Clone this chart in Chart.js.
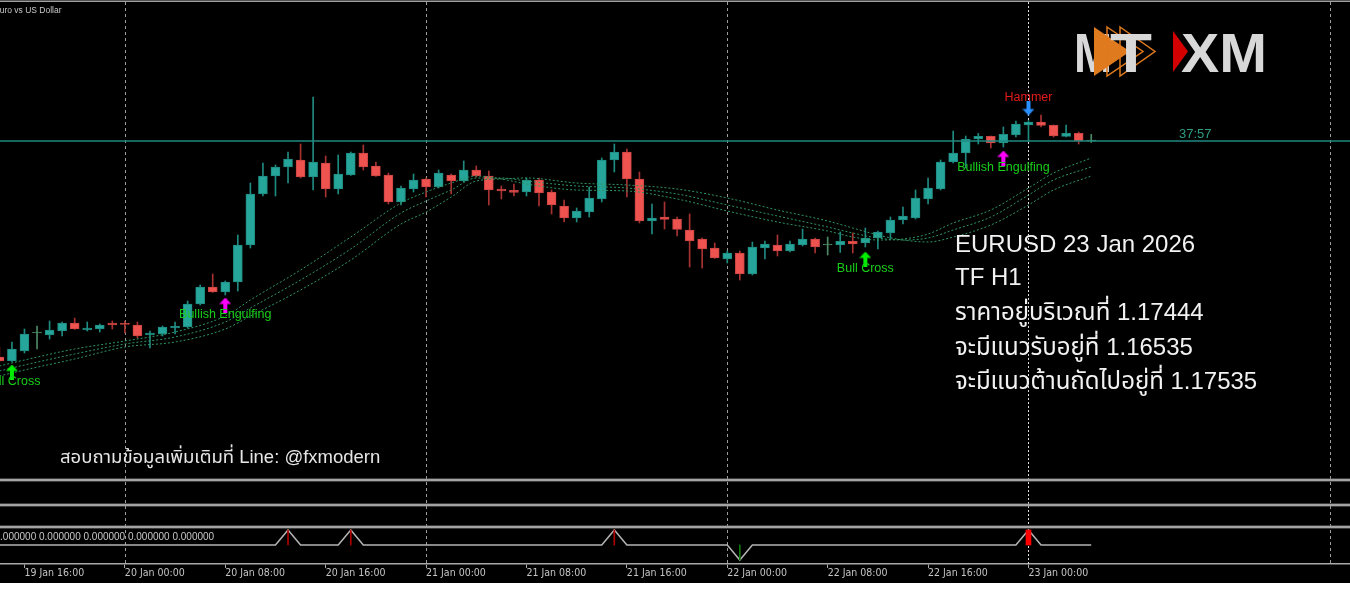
<!DOCTYPE html>
<html>
<head>
<meta charset="utf-8">
<script src="https://cdn.jsdelivr.net/npm/chart.js"></script>
<style>
  html, body { margin: 0; padding: 0; background: #fff; }
  #wrap { position: relative; width: 1350px; height: 583px; background: #000; }
</style>
</head>
<body>
<div id="wrap"><canvas id="chart"></canvas></div>
<script>
// EURUSD H1, bar 0 = 19 Jan 14:00, one bar per hour
const symbolName = 'Euro vs US Dollar';
const infoTitle = 'EURUSD 23 Jan 2026';
const timeframe = 'TF H1';
const bidPrice = 1.17444;
const supportPrice = 1.16535;
const resistPrice = 1.17535;
const countdown = '37:57';
const contactText = 'สอบถามข้อมูลเพิ่มเติมที่ Line: @fxmodern';

const open = [
  1.15932, 1.15904, 1.15974, 1.16100, 1.16086, 1.16114, 1.16170, 1.16121, 1.16128, 1.16170,
  1.16167, 1.16156, 1.16086, 1.16093, 1.16135, 1.16142, 1.16303, 1.16422, 1.16387, 1.16457,
  1.16716, 1.17073, 1.17199, 1.17262, 1.17311, 1.17192, 1.17290, 1.17108, 1.17206, 1.17360,
  1.17269, 1.17206, 1.17017, 1.17108, 1.17178, 1.17122, 1.17206, 1.17164, 1.17241, 1.17199,
  1.17108, 1.17098, 1.17087, 1.17171, 1.17087, 1.16989, 1.16905, 1.16947, 1.17038, 1.17311,
  1.17367, 1.17178, 1.16884, 1.16912, 1.16898, 1.16821, 1.16758, 1.16695, 1.16618, 1.16660,
  1.16513, 1.16695, 1.16716, 1.16674, 1.16716, 1.16758, 1.16716, 1.16716, 1.16741, 1.16730,
  1.16765, 1.16800, 1.16891, 1.16905, 1.17038, 1.17108, 1.17297, 1.17360, 1.17458, 1.17476,
  1.17430, 1.17486, 1.17556, 1.17577, 1.17553, 1.17476, 1.17497, 1.17444
];
const high = [
  1.16002, 1.16037, 1.16128, 1.16149, 1.16184, 1.16177, 1.16205, 1.16177, 1.16163, 1.16184,
  1.16184, 1.16177, 1.16114, 1.16149, 1.16177, 1.16324, 1.16436, 1.16513, 1.16464, 1.16786,
  1.17150, 1.17290, 1.17276, 1.17367, 1.17423, 1.17752, 1.17339, 1.17346, 1.17367, 1.17416,
  1.17297, 1.17220, 1.17129, 1.17213, 1.17185, 1.17241, 1.17213, 1.17304, 1.17269, 1.17234,
  1.17129, 1.17143, 1.17185, 1.17185, 1.17101, 1.17031, 1.16975, 1.17122, 1.17325, 1.17423,
  1.17388, 1.17227, 1.17003, 1.17017, 1.16912, 1.16933, 1.16765, 1.16730, 1.16674, 1.16674,
  1.16737, 1.16744, 1.16786, 1.16744, 1.16828, 1.16765, 1.16772, 1.16807, 1.16800, 1.16835,
  1.16814, 1.16912, 1.16982, 1.17101, 1.17185, 1.17311, 1.17514, 1.17479, 1.17497, 1.17479,
  1.17542, 1.17584, 1.17587, 1.17626, 1.17556, 1.17556, 1.17507, 1.17490
];
const low = [
  1.15897, 1.15900, 1.15960, 1.15988, 1.16058, 1.16079, 1.16125, 1.16114, 1.16107, 1.16128,
  1.16100, 1.16065, 1.15995, 1.16079, 1.16093, 1.16135, 1.16296, 1.16384, 1.16366, 1.16394,
  1.16695, 1.17059, 1.17059, 1.17150, 1.17185, 1.17101, 1.17052, 1.17073, 1.17203, 1.17241,
  1.17196, 1.17003, 1.16996, 1.17087, 1.17052, 1.17115, 1.17073, 1.17157, 1.17192, 1.16996,
  1.17038, 1.17059, 1.17059, 1.16989, 1.16933, 1.16877, 1.16877, 1.16912, 1.17017, 1.17227,
  1.17052, 1.16870, 1.16793, 1.16828, 1.16779, 1.16562, 1.16555, 1.16622, 1.16590, 1.16471,
  1.16506, 1.16618, 1.16639, 1.16667, 1.16709, 1.16660, 1.16646, 1.16664, 1.16660, 1.16702,
  1.16688, 1.16758, 1.16863, 1.16898, 1.17003, 1.17101, 1.17290, 1.17255, 1.17423, 1.17395,
  1.17402, 1.17472, 1.17444, 1.17542, 1.17472, 1.17472, 1.17423, 1.17434
];
const close = [
  1.15904, 1.15988, 1.16093, 1.16100, 1.16121, 1.16170, 1.16128, 1.16135, 1.16156, 1.16156,
  1.16160, 1.16079, 1.16100, 1.16142, 1.16146, 1.16303, 1.16422, 1.16387, 1.16457, 1.16716,
  1.17073, 1.17199, 1.17262, 1.17318, 1.17192, 1.17297, 1.17108, 1.17213, 1.17360, 1.17262,
  1.17199, 1.17017, 1.17115, 1.17171, 1.17122, 1.17220, 1.17164, 1.17241, 1.17199, 1.17101,
  1.17094, 1.17084, 1.17171, 1.17080, 1.16996, 1.16905, 1.16954, 1.17045, 1.17311, 1.17367,
  1.17178, 1.16884, 1.16905, 1.16895, 1.16825, 1.16744, 1.16688, 1.16625, 1.16660, 1.16513,
  1.16702, 1.16723, 1.16674, 1.16723, 1.16758, 1.16702, 1.16716, 1.16741, 1.16723, 1.16765,
  1.16807, 1.16891, 1.16919, 1.17045, 1.17115, 1.17297, 1.17360, 1.17458, 1.17476, 1.17430,
  1.17490, 1.17563, 1.17577, 1.17553, 1.17479, 1.17497, 1.17444, 1.17444
];

const tickIdx = [2, 10, 18, 26, 34, 42, 50, 58, 66, 74, 82];
const tickLabels = ['19 Jan 16:00', '20 Jan 00:00', '20 Jan 08:00', '20 Jan 16:00', '21 Jan 00:00',
  '21 Jan 08:00', '21 Jan 16:00', '22 Jan 00:00', '22 Jan 08:00', '22 Jan 16:00', '23 Jan 00:00'];
const dayIdx = [10, 34, 58, 82, 106];

// three moving averages, read at these bars
const maIdx = [0, 2, 6, 10, 14, 18, 20, 24, 28, 32, 34, 36, 38, 40, 42, 46, 50, 54, 58, 62, 66, 68, 70, 72, 74, 76, 79, 82, 84, 87];
const maFast = [1.15869, 1.15911, 1.15988, 1.16044, 1.16107, 1.16219, 1.16331, 1.16541, 1.16772, 1.17010,
  1.17087, 1.17150, 1.17199, 1.17178, 1.17143, 1.17101, 1.17094, 1.17038, 1.16954, 1.16877,
  1.16814, 1.16772, 1.16751, 1.16758, 1.16793, 1.16870, 1.16961, 1.17115, 1.17220, 1.17325];
const maMid = [1.15834, 1.15876, 1.15953, 1.16023, 1.16072, 1.16177, 1.16275, 1.16471, 1.16688, 1.16940,
  1.17024, 1.17101, 1.17185, 1.17185, 1.17164, 1.17129, 1.17115, 1.17073, 1.16996, 1.16919,
  1.16842, 1.16800, 1.16765, 1.16751, 1.16765, 1.16821, 1.16912, 1.17066, 1.17171, 1.17262];
const maSlow = [1.15799, 1.15841, 1.15918, 1.16002, 1.16037, 1.16128, 1.16219, 1.16401, 1.16611, 1.16863,
  1.16947, 1.17052, 1.17164, 1.17178, 1.17185, 1.17150, 1.17136, 1.17108, 1.17045, 1.16961,
  1.16884, 1.16835, 1.16786, 1.16751, 1.16737, 1.16772, 1.16856, 1.16996, 1.17101, 1.17199];

// pattern signals
const sigIdx = [1, 18, 69, 80, 82];
const sigPrice = [1.15827, 1.16296, 1.16618, 1.17325, 1.17675];
const sigText = ['Bull Cross', 'Bullish Engulfing', 'Bull Cross', 'Bullish Engulfing', 'Hammer'];
const sigKind = ['cross', 'engulf', 'cross', 'engulf', 'hammer'];

// lower indicator window
const indIdx = [23, 28, 49, 59, 82];
const indVal = [1, 1, 1, -1, 1];
const indThick = [82];
const indReadout = '0.000000 0.000000 0.000000 0.000000 0.000000';

const fontUI = '"Liberation Sans", Arial, sans-serif';
const fontAxis = '"Liberation Sans Narrow", "DejaVu Sans Condensed", "Liberation Sans", sans-serif';
const fontInfo = '"Liberation Sans", "Noto Sans", "Noto Sans Thai", sans-serif';

const bullC = '#26a69a', bearC = '#ef5350', dojiC = '#4e8a66';
const dirOf = (i) => (close[i] > open[i] ? 1 : close[i] < open[i] ? -1 : 0);
const pick = (i, d, u, b) => [d, u, b][[0, 1, -1].indexOf(dirOf(i))];
const bodyColor = open.map((o, i) => pick(i, dojiC, bullC, bearC));
const bodyEdge = open.map((o, i) => pick(i, dojiC, '#1f8a80', '#c94442'));
const wickColor = open.map((o, i) => pick(i, dojiC, '#1f8a80', '#a83232'));

const sigStyle = {
  cross: { arrow: '#00ee00', text: '#19cf19', down: false },
  engulf: { arrow: '#ff00ff', text: '#19cf19', down: false },
  hammer: { arrow: '#2a8fff', text: '#e61a1a', down: true }
};

function makeArrow(color, down) {
  const c = document.createElement('canvas');
  c.width = 12; c.height = 15;
  const g = c.getContext('2d');
  if (down) { g.translate(0, 15); g.scale(1, -1); }
  g.fillStyle = color;
  g.beginPath();
  g.moveTo(6, 0); g.lineTo(12, 6.5); g.lineTo(8, 6.5); g.lineTo(8, 15);
  g.lineTo(4, 15); g.lineTo(4, 6.5); g.lineTo(0, 6.5);
  g.closePath(); g.fill();
  return c;
}
const arrowImgs = sigKind.map((k) => makeArrow(sigStyle[k].arrow, sigStyle[k].down));

const xMin = 0.05, xMax = 107.62;
const indPts = open.map((o, i) => ({ x: i, y: indIdx.includes(i) ? indVal[indIdx.indexOf(i)] : 0 }));
const histThin = indIdx.filter((v) => !indThick.includes(v));

function stretchText(ctx, txt, x, base, w) {
  const m = ctx.measureText(txt).width;
  ctx.save();
  ctx.translate(x, base);
  ctx.scale(w / m, 1);
  ctx.fillText(txt, 0, 0);
  ctx.restore();
}

const overlay = {
  id: 'overlay',
  beforeDatasetsDraw(chart) {
    const { ctx, chartArea } = chart;
    const x = chart.scales.x;
    const last = open.length - 1;
    ctx.save();
    ctx.lineWidth = 1;
    dayIdx.forEach((d) => {
      const px = Math.round(x.getPixelForValue(d)) + 0.5;
      const today = d <= last && d > last - 24;
      ctx.strokeStyle = today ? '#dcdcdc' : '#9c9c9c';
      ctx.setLineDash(today ? [2, 2] : [3, 3]);
      ctx.beginPath();
      ctx.moveTo(px, 2);
      ctx.lineTo(px, chartArea.bottom);
      ctx.stroke();
    });
    ctx.restore();
  },
  afterDatasetsDraw(chart) {
    const { ctx } = chart;
    const x = chart.scales.x, y = chart.scales.y;
    const W = chart.width;
    ctx.save();

    // window frames
    ctx.fillStyle = '#a0a0a0';
    ctx.fillRect(0, 0.5, W, 1.5);
    [480, 505, 527].forEach((yy) => {
      ctx.fillStyle = '#777';
      ctx.fillRect(0, yy - 1.5, W, 3);
      ctx.fillStyle = '#cfcfcf';
      ctx.fillRect(0, yy - 0.5, W, 1);
    });

    ctx.textBaseline = 'alphabetic';
    ctx.textAlign = 'left';
    ctx.fillStyle = '#c8c8c8';
    ctx.font = '8.5px ' + fontUI;
    ctx.fillText(symbolName, -6, 12.5);
    ctx.font = '10px ' + fontUI;
    ctx.fillText(indReadout, -5.5, 539.5);

    // signal captions
    ctx.font = '12.5px ' + fontUI;
    ctx.textAlign = 'center';
    ctx.textBaseline = 'middle';
    sigIdx.forEach((b, i) => {
      const st = sigStyle[sigKind[i]];
      const px = x.getPixelForValue(b);
      const py = y.getPixelForValue(sigPrice[i]);
      ctx.fillStyle = st.text;
      ctx.fillText(sigText[i], px, st.down ? py - 10 : py + 10);
    });

    // bar countdown on the bid line
    ctx.textAlign = 'left';
    ctx.textBaseline = 'alphabetic';
    ctx.font = '13px ' + fontUI;
    ctx.fillStyle = '#2f9b82';
    ctx.fillText(countdown, 1179, y.getPixelForValue(bidPrice) - 3);

    // logo
    ctx.font = 'bold 56px ' + fontUI;
    ctx.fillStyle = '#d8d8d8';
    stretchText(ctx, 'M', 1074, 72, 38);
    ctx.fillStyle = '#e07a1f';
    ctx.beginPath();
    ctx.moveTo(1094, 27); ctx.lineTo(1130, 51.5); ctx.lineTo(1094, 76); ctx.closePath(); ctx.fill();
    ctx.strokeStyle = '#e07a1f';
    ctx.lineWidth = 1.5;
    [[1107, 1143], [1120, 1155]].forEach(([a, b]) => {
      ctx.beginPath();
      ctx.moveTo(a, 27); ctx.lineTo(b, 51.5); ctx.lineTo(a, 76); ctx.closePath(); ctx.stroke();
    });
    ctx.fillStyle = '#d8d8d8';
    stretchText(ctx, 'T', 1110, 72, 42);
    ctx.fillStyle = '#d40000';
    ctx.beginPath();
    ctx.moveTo(1173, 31); ctx.lineTo(1188, 51.5); ctx.lineTo(1173, 72); ctx.closePath(); ctx.fill();
    ctx.fillStyle = '#d8d8d8';
    stretchText(ctx, 'XM', 1181, 72, 86);

    // info block
    ctx.fillStyle = '#f2f2f2';
    ctx.font = '24px ' + fontInfo;
    const lines = [
      infoTitle,
      timeframe,
      'ราคาอยู่บริเวณที่ ' + bidPrice.toFixed(5),
      'จะมีแนวรับอยู่ที่ ' + supportPrice.toFixed(5),
      'จะมีแนวต้านถัดไปอยู่ที่ ' + resistPrice.toFixed(5)
    ];
    [252, 285, 320, 355, 389].forEach((b, i) => ctx.fillText(lines[i], 955, b));

    ctx.font = '18.5px ' + fontInfo;
    ctx.fillStyle = '#e6e6e6';
    ctx.fillText(contactText, 60, 463);
    ctx.restore();
  }
};

new Chart(document.getElementById('chart'), {
  type: 'bar',
  data: {
    datasets: [
      {
        type: 'line', label: 'bid', yAxisID: 'y', order: 0,
        data: [{ x: xMin, y: bidPrice }, { x: xMax, y: bidPrice }],
        borderColor: '#1f8a80', borderWidth: 1.3, pointRadius: 0
      },
      {
        type: 'line', label: 'signals', yAxisID: 'y', order: 0, showLine: false,
        data: sigIdx.map((b, i) => ({ x: b, y: sigPrice[i] })),
        pointStyle: (c) => arrowImgs[c.dataIndex], pointRadius: 6, clip: false
      },
      ...[maFast, maMid, maSlow].map((vals, k) => ({
        type: 'line', label: 'ma' + k, yAxisID: 'y', order: 1,
        data: maIdx.map((b, i) => ({ x: b, y: vals[i] })),
        borderColor: '#2f9462', borderWidth: 1, borderDash: [2, 2],
        pointRadius: 0, cubicInterpolationMode: 'monotone'
      })),
      {
        label: 'body', yAxisID: 'y', order: 2, grouped: false,
        data: open.map((o, i) => ({ x: i, y: [o, close[i]] })),
        backgroundColor: bodyColor, borderColor: bodyEdge, borderWidth: 1,
        borderSkipped: false, barThickness: 9, minBarLength: 1
      },
      {
        label: 'wick', yAxisID: 'y', order: 3, grouped: false,
        data: open.map((o, i) => ({ x: i, y: [low[i], high[i]] })),
        backgroundColor: wickColor, borderWidth: 0, barThickness: 1
      },
      {
        type: 'line', label: 'signal line', yAxisID: 'yInd', order: 1,
        data: indPts, borderColor: '#b4b4b4', borderWidth: 1.5, pointRadius: 0, tension: 0
      },
      {
        label: 'hist', yAxisID: 'yInd', order: 0, grouped: false,
        data: histThin.map((b) => ({ x: b, y: indVal[indIdx.indexOf(b)] })),
        backgroundColor: histThin.map((b) => (indVal[indIdx.indexOf(b)] > 0 ? '#b00000' : '#0b7a0b')),
        barThickness: 1, borderWidth: 0
      },
      {
        label: 'hist strong', yAxisID: 'yInd', order: 0, grouped: false,
        data: indThick.map((b) => ({ x: b, y: indVal[indIdx.indexOf(b)] })),
        backgroundColor: '#ff0000', barThickness: 5, borderWidth: 0
      }
    ]
  },
  options: {
    responsive: true,
    maintainAspectRatio: false,
    devicePixelRatio: 1,
    animation: false,
    events: [],
    layout: { padding: 0, autoPadding: false },
    plugins: { legend: { display: false }, tooltip: { enabled: false } },
    scales: {
      x: {
        type: 'linear', min: xMin, max: xMax, offset: false,
        afterBuildTicks: (axis) => { axis.ticks = tickIdx.map((v) => ({ value: v })); },
        afterFit: (axis) => { axis.height = 19; axis.paddingLeft = 0; axis.paddingRight = 0; },
        grid: { offset: false, drawOnChartArea: false, drawTicks: true, tickLength: 4, tickColor: '#a8a8a8', tickWidth: 1 },
        border: { display: true, color: '#a8a8a8', width: 1.5 },
        ticks: {
          autoSkip: false, maxRotation: 0, minRotation: 0, align: 'start', padding: -1,
          color: '#c4c4c4', font: { family: fontAxis, size: 10.5 },
          callback: (v) => tickLabels[tickIdx.indexOf(v)] || ''
        }
      },
      y: { display: false, min: 1.14483, max: 1.18431 },
      yInd: { display: false, min: -1.267, max: 36.33 }
    }
  },
  plugins: [overlay]
});
</script>
</body>
</html>
